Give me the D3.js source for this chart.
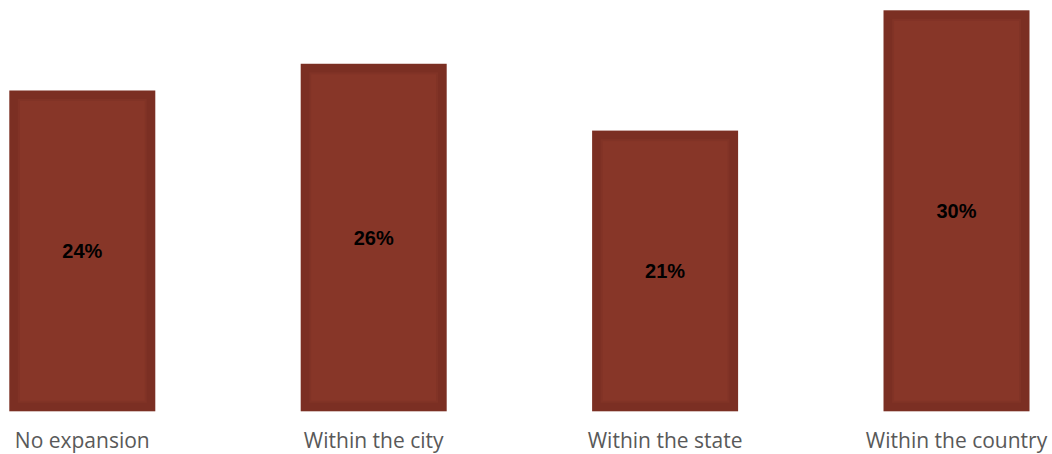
<!DOCTYPE html>
<html>
<head>
<meta charset="utf-8">
<script src="https://cdn.jsdelivr.net/npm/d3@7"></script>
<style>
  html, body { margin: 0; padding: 0; background: #ffffff; }
  svg { display: block; }
</style>
</head>
<body>
<script>
// Share of respondents by planned expansion scope
const categories = ["No expansion", "Within the city", "Within the state", "Within the country"];
const values = [24, 26, 21, 30];

const width = 1052, height = 454;
const baseline = 411.3;

const svg = d3.select("body").append("svg")
  .attr("width", width)
  .attr("height", height);

const x = d3.scaleBand()
  .domain(categories)
  .range([9.3, 1029.5])
  .paddingInner(0.499)
  .paddingOuter(0);

const y = d3.scaleLinear()
  .domain([0, 30])
  .range([baseline, 10.3]);

const inset = 10.5;

const bars = svg.append("g").selectAll("g")
  .data(categories.map((c, i) => ({ c, v: values[i] })))
  .join("g");

// outer frame
bars.append("rect")
  .attr("x", d => x(d.c))
  .attr("y", d => y(d.v))
  .attr("width", x.bandwidth())
  .attr("height", d => baseline - y(d.v))
  .attr("fill", "#7b2f23");

// soft transition ring
bars.append("rect")
  .attr("x", d => x(d.c) + inset - 2)
  .attr("y", d => y(d.v) + inset - 2)
  .attr("width", x.bandwidth() - 2 * (inset - 2))
  .attr("height", d => baseline - y(d.v) - 2 * (inset - 2))
  .attr("fill", "#813326");

// inner face
bars.append("rect")
  .attr("x", d => x(d.c) + inset)
  .attr("y", d => y(d.v) + inset)
  .attr("width", x.bandwidth() - 2 * inset)
  .attr("height", d => baseline - y(d.v) - 2 * inset)
  .attr("fill", "#873628");

// value labels, centred in each bar
bars.append("text")
  .attr("x", d => x(d.c) + x.bandwidth() / 2)
  .attr("y", d => (y(d.v) + baseline) / 2)
  .attr("text-anchor", "middle")
  .attr("dominant-baseline", "central")
  .attr("font-family", "'Liberation Sans', Arial, sans-serif")
  .attr("font-weight", "bold")
  .attr("font-size", 20)
  .attr("fill", "#000000")
  .text(d => d.v + "%");

// category axis labels
const xAxis = d3.axisBottom(x).tickSize(0).tickPadding(0);
const axisG = svg.append("g")
  .attr("transform", `translate(0, ${baseline})`)
  .call(xAxis);
axisG.select(".domain").remove();
axisG.selectAll("text")
  .attr("dy", null)
  .attr("y", 37)
  .attr("font-family", "'Open Sans', sans-serif")
  .attr("font-size", 21)
  .attr("fill", "#595959");
</script>
</body>
</html>
